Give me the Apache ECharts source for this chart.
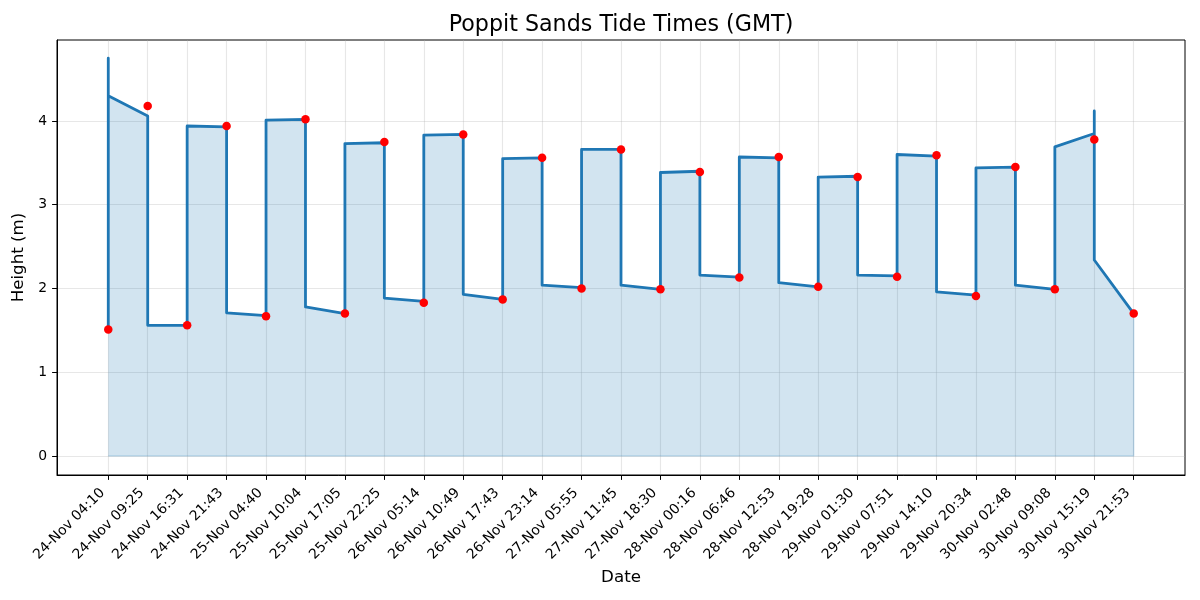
<!DOCTYPE html>
<html>
<head>
<meta charset="utf-8">
<script src="https://cdn.jsdelivr.net/npm/echarts@6/dist/echarts.min.js"></script>
<style>
html,body{margin:0;padding:0;background:#fff;}
#chart{width:1200px;height:600px;}
</style>
</head>
<body>
<div id="chart"></div>
<script>
// Tide time labels (category ticks on x axis)
const tideLabels = [
  '24-Nov 04:10','24-Nov 09:25','24-Nov 16:31','24-Nov 21:43',
  '25-Nov 04:40','25-Nov 10:04','25-Nov 17:05','25-Nov 22:25',
  '26-Nov 05:14','26-Nov 10:49','26-Nov 17:43','26-Nov 23:14',
  '27-Nov 05:55','27-Nov 11:45','27-Nov 18:30',
  '28-Nov 00:16','28-Nov 06:46','28-Nov 12:53','28-Nov 19:28',
  '29-Nov 01:30','29-Nov 07:51','29-Nov 14:10','29-Nov 20:34',
  '30-Nov 02:48','30-Nov 09:08','30-Nov 15:19','30-Nov 21:53'
];
// Tide heights (red markers), metres
const tideHeights = [
  1.51, 4.18, 1.56, 3.94, 1.67, 4.02, 1.70, 3.75, 1.83, 3.84, 1.87, 3.56,
  2.00, 3.66, 1.99, 3.39, 2.13, 3.57, 2.02, 3.33, 2.14, 3.59, 1.91, 3.45,
  1.99, 3.78, 1.70
];
// Blue curve: value at the start of each interval (right after the jump at tick i)
const curveSegStart = [
  4.30, 1.56, 3.94, 1.71, 4.01, 1.78, 3.73, 1.885, 3.83, 1.93, 3.55, 2.04,
  3.66, 2.04, 3.385, 2.16, 3.57, 2.07, 3.33, 2.16, 3.60, 1.96, 3.44, 2.04,
  3.69, 2.34
];
// Blue curve: value at the end of each interval (just before tick i+1)
const curveSegEnd = [
  4.06, 1.56, 3.93, 1.675, 4.02, 1.70, 3.74, 1.845, 3.84, 1.87, 3.56, 2.01,
  3.66, 1.99, 3.40, 2.135, 3.56, 2.02, 3.34, 2.15, 3.58, 1.92, 3.45, 1.99,
  3.85, 1.70
];
// Curve opening value and vertical spikes at given ticks
const curveOpen = 1.51;
const spikeTicks = [0, 25];
const spikeHeights = [4.75, 4.12];
const yTicks = [0, 1, 2, 3, 4];

// Build curve path from the arrays
const curveData = [[0, curveOpen]];
for (let i = 0; i < curveSegStart.length; i++) {
  const s = spikeTicks.indexOf(i);
  if (s >= 0) curveData.push([i, spikeHeights[s]]);
  curveData.push([i, curveSegStart[i]]);
  curveData.push([i + 1, curveSegEnd[i]]);
}
const lastIdx = curveSegEnd.length;
const edgeData = [[0, 0], [lastIdx, 0], [lastIdx, curveSegEnd[lastIdx - 1]]];
const dotData = tideHeights.map((h, i) => [i, h]);
const xTicks = tideLabels.map((_, i) => i);

const FONT = 'DejaVu Sans';
const chart = echarts.init(document.getElementById('chart'), null, {renderer: 'canvas'});
const gridLine = {show: true, lineStyle: {color: 'rgba(176,176,176,0.3)', width: 1.1}};
chart.setOption({
  animation: false,
  backgroundColor: '#fff',
  textStyle: {fontFamily: FONT},
  graphic: [{
    type: 'text', x: 621, y: 25,
    style: {text: 'Poppit Sands Tide Times (GMT)', fontFamily: FONT, fontSize: 22.2,
      fill: '#000', align: 'center', verticalAlign: 'middle'}
  }],
  grid: {left: 57, right: 15, top: 40, bottom: 125, show: true,
    borderColor: '#000', borderWidth: 1, backgroundColor: 'transparent'},
  xAxis: {
    type: 'value', min: -1.3, max: 27.3,
    name: 'Date', nameLocation: 'middle', nameGap: 89,
    nameTextStyle: {fontFamily: FONT, fontSize: 16.7, color: '#000'},
    axisLine: {show: true, onZero: false, lineStyle: {color: '#000', width: 1}},
    axisTick: {show: true, length: 4.9, customValues: xTicks, lineStyle: {color: '#000', width: 1}},
    axisLabel: {show: true, customValues: xTicks, rotate: 45, margin: 10, padding: [0, 8, 0, 0],
      fontFamily: FONT, fontSize: 13.9, color: '#000',
      formatter: v => tideLabels[Math.round(v)] || ''},
    splitLine: gridLine
  },
  yAxis: {
    type: 'value', min: -0.227, max: 4.967,
    name: 'Height (m)', nameLocation: 'middle', nameGap: 22, nameRotate: 90,
    nameTextStyle: {fontFamily: FONT, fontSize: 16.7, color: '#000'},
    axisLine: {show: true, onZero: false, lineStyle: {color: '#000', width: 1}},
    axisTick: {show: true, length: 4.9, customValues: yTicks, lineStyle: {color: '#000', width: 1}},
    axisLabel: {show: true, customValues: yTicks, margin: 10,
      fontFamily: FONT, fontSize: 13.9, color: '#000'},
    splitLine: gridLine
  },
  series: [
    {
      name: 'fillEdge', type: 'line', data: edgeData, symbol: 'none', silent: true,
      lineStyle: {color: 'rgba(31,119,180,0.2)', width: 1.4}, z: 1
    },
    {
      name: 'Tide curve', type: 'line', data: curveData, symbol: 'none', smooth: false,
      lineStyle: {color: '#1f77b4', width: 2.8, join: 'round'},
      areaStyle: {color: 'rgba(31,119,180,0.2)', opacity: 1}, z: 2
    },
    {
      name: 'Tide', type: 'scatter', data: dotData, symbol: 'circle', symbolSize: 8.5,
      itemStyle: {color: '#ff0000', opacity: 1}, z: 3
    }
  ]
});
</script>
</body>
</html>
